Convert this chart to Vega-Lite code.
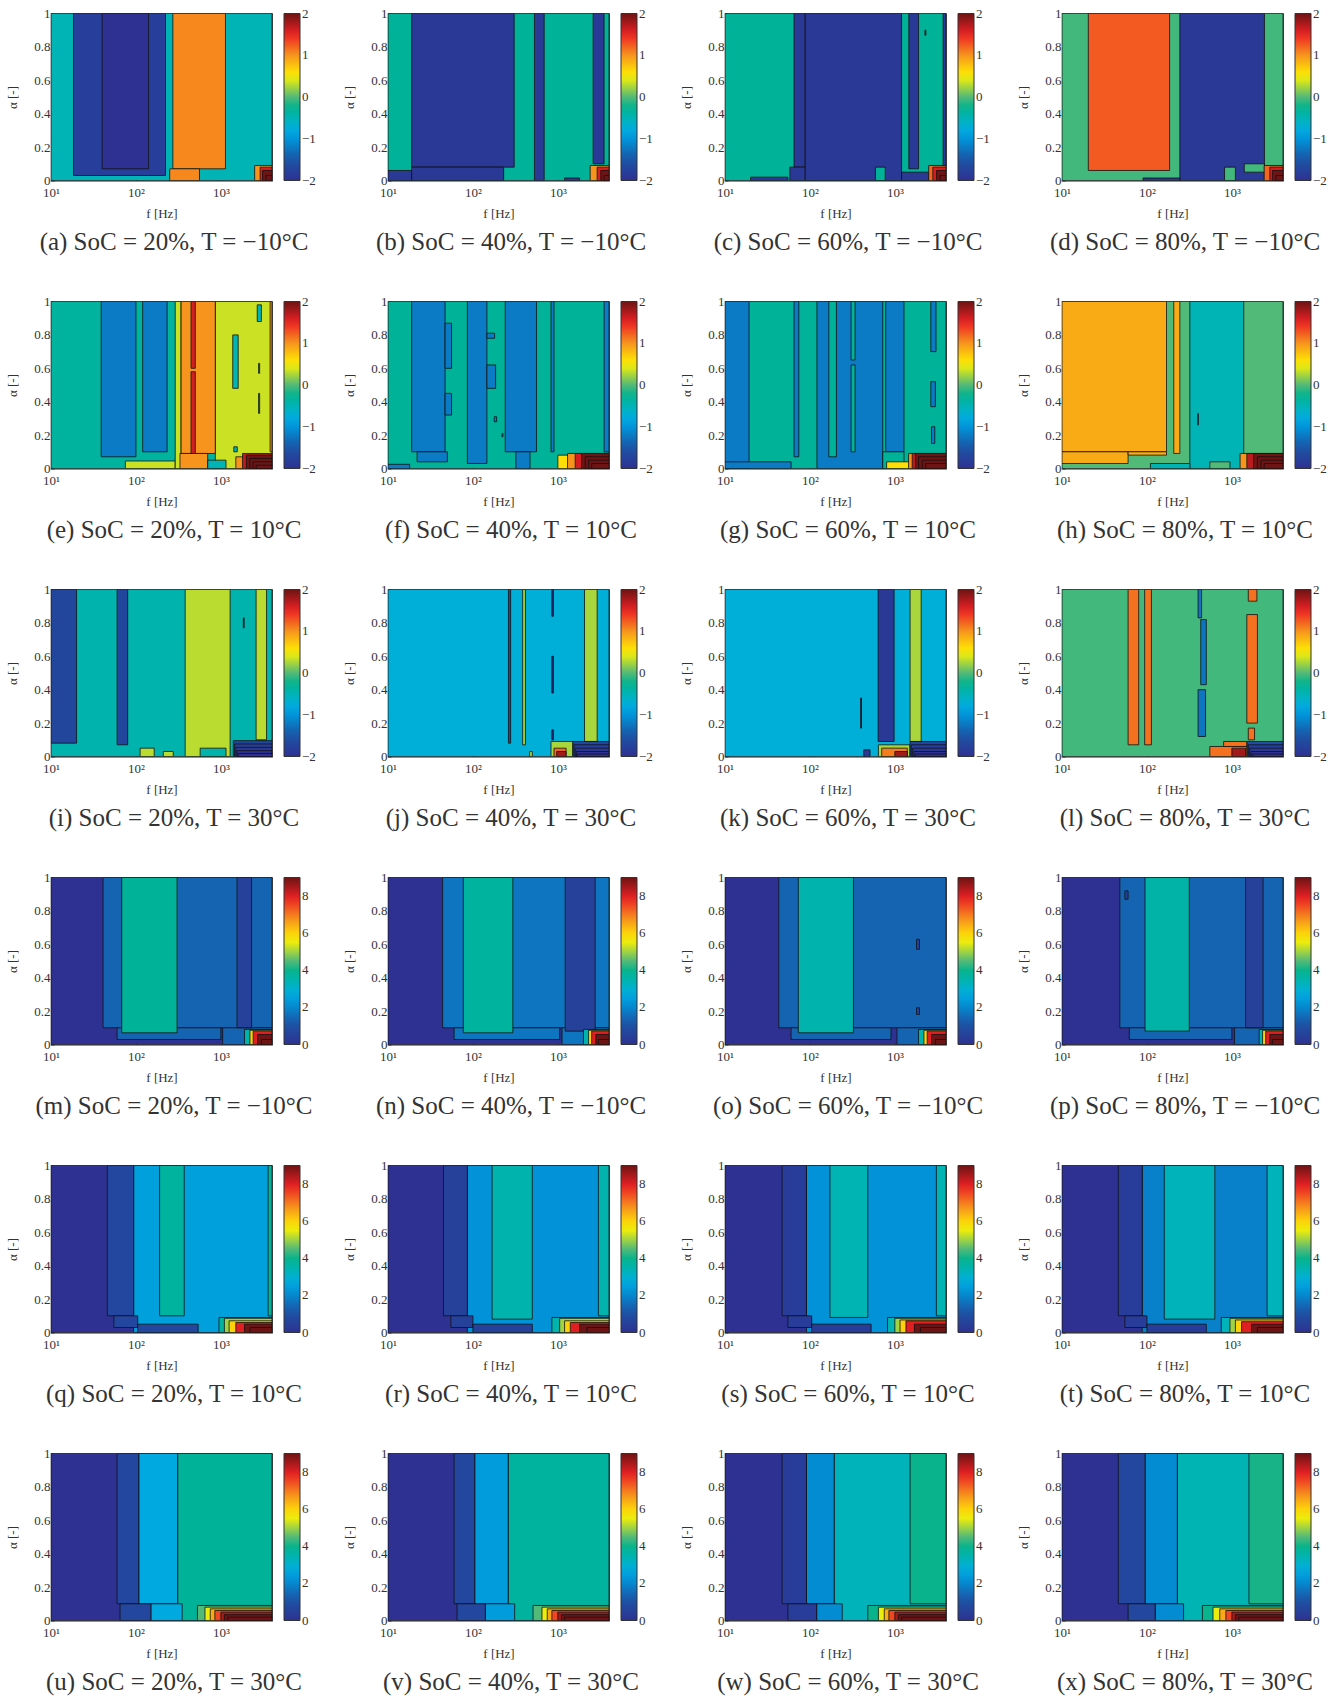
{"$schema":"https://vega.github.io/schema/vega-lite/v6.json","padding":{"left":6,"top":6.5,"right":0,"bottom":0},"background":"white","spacing":39,
"config":{"view":{"stroke":"#222","strokeWidth":1.2},"font":"Liberation Serif","axis":{"grid":false,"labelFont":"Liberation Serif","titleFont":"Liberation Serif","labelFontSize":13,"titleFontSize":13,"titleFontWeight":"normal","labelColor":"#333","titleColor":"#333","tickColor":"#333","tickSize":-3,"domain":false,"labelPadding":4},"legend":{"labelFont":"Liberation Serif","labelFontSize":13,"labelColor":"#333"}},
"datasets":{"top":[
{"p":"a","v":-0.5,"f":10,"g":4000,"a":0,"b":1},{"p":"a","v":-1.8,"f":18.4,"g":223,"a":0.03,"b":1},{"p":"a","v":-2,"f":40,"g":141,"a":0.07,"b":1},{"p":"a","v":1.05,"f":272,"g":1133,"a":0.07,"b":1},{"p":"a","v":1.05,"f":250,"g":560,"a":0,"b":0.07},{"p":"a","v":1,"f":2500,"g":4000,"a":0,"b":0.09},{"p":"a","v":1.6,"f":2900,"g":4000,"a":0,"b":0.08},{"p":"a","v":2,"f":3100,"g":4000,"a":0,"b":0.06},{"p":"a","v":2,"f":3400,"g":4000,"a":0,"b":0.03},
{"p":"b","v":-0.3,"f":10,"g":4000,"a":0,"b":1},{"p":"b","v":-1.9,"f":19,"g":306,"a":0.08,"b":1},{"p":"b","v":-1.9,"f":10,"g":19,"a":0,"b":0.06},{"p":"b","v":-1.9,"f":19,"g":230,"a":0,"b":0.08},{"p":"b","v":-1.9,"f":530,"g":690,"a":0,"b":1},{"p":"b","v":-1.9,"f":2600,"g":3500,"a":0.1,"b":1},{"p":"b","v":-1.9,"f":1200,"g":1800,"a":0,"b":0.015},{"p":"b","v":1,"f":2400,"g":4000,"a":0,"b":0.09},{"p":"b","v":1.6,"f":2900,"g":4000,"a":0,"b":0.08},{"p":"b","v":2,"f":3200,"g":4000,"a":0,"b":0.06},{"p":"b","v":2,"f":3500,"g":4000,"a":0,"b":0.03},
{"p":"c","v":-0.3,"f":10,"g":4000,"a":0,"b":1},{"p":"c","v":-1.9,"f":20,"g":55,"a":0,"b":0.02},{"p":"c","v":-1.9,"f":65,"g":88,"a":0.08,"b":1},{"p":"c","v":-1.9,"f":58,"g":88,"a":0,"b":0.08},{"p":"c","v":-1.9,"f":88,"g":1200,"a":0,"b":1},{"p":"c","v":-0.3,"f":590,"g":770,"a":0,"b":0.08},{"p":"c","v":-1.9,"f":1460,"g":1900,"a":0.07,"b":1},{"p":"c","v":-1.9,"f":1200,"g":2500,"a":0,"b":0.05},{"p":"c","v":-1.9,"f":2260,"g":2320,"a":0.87,"b":0.9},{"p":"c","v":-1.9,"f":3700,"g":4000,"a":0.08,"b":1},{"p":"c","v":1.2,"f":2500,"g":4000,"a":0,"b":0.09},{"p":"c","v":1.6,"f":2800,"g":4000,"a":0,"b":0.08},{"p":"c","v":2,"f":3100,"g":4000,"a":0,"b":0.06},{"p":"c","v":2,"f":3400,"g":4000,"a":0,"b":0.03},
{"p":"d","v":-0.05,"f":10,"g":4000,"a":0,"b":1},{"p":"d","v":1.25,"f":20.4,"g":185,"a":0.06,"b":1},{"p":"d","v":-1.9,"f":244,"g":2420,"a":0,"b":1},{"p":"d","v":-1.9,"f":90,"g":244,"a":0,"b":0.015},{"p":"d","v":-0.05,"f":820,"g":1100,"a":0,"b":0.08},{"p":"d","v":-0.05,"f":1400,"g":2420,"a":0.05,"b":0.1},{"p":"d","v":1.2,"f":2400,"g":4000,"a":0,"b":0.09},{"p":"d","v":1.6,"f":2800,"g":4000,"a":0,"b":0.08},{"p":"d","v":2,"f":3000,"g":4000,"a":0,"b":0.06},{"p":"d","v":2,"f":3300,"g":4000,"a":0,"b":0.03},
{"p":"e","v":-0.35,"f":10,"g":4000,"a":0,"b":1},{"p":"e","v":-1.2,"f":39,"g":100,"a":0.07,"b":1},{"p":"e","v":-1.2,"f":120,"g":233,"a":0.1,"b":1},{"p":"e","v":0.35,"f":75,"g":290,"a":0,"b":0.045},{"p":"e","v":0.35,"f":290,"g":340,"a":0,"b":1},{"p":"e","v":0.35,"f":860,"g":4000,"a":0,"b":1},{"p":"e","v":1,"f":340,"g":860,"a":0.09,"b":1},{"p":"e","v":1,"f":330,"g":700,"a":0,"b":0.09},{"p":"e","v":1.6,"f":445,"g":500,"a":0.09,"b":0.58},{"p":"e","v":1.6,"f":445,"g":500,"a":0.6,"b":1},{"p":"e","v":-0.5,"f":700,"g":1150,"a":0,"b":0.05},{"p":"e","v":-0.5,"f":1380,"g":1600,"a":0.48,"b":0.8},{"p":"e","v":-0.5,"f":2680,"g":3000,"a":0.88,"b":0.98},{"p":"e","v":-0.5,"f":2780,"g":2860,"a":0.57,"b":0.63},{"p":"e","v":-0.5,"f":2780,"g":2860,"a":0.33,"b":0.45},{"p":"e","v":-0.5,"f":1420,"g":1560,"a":0.1,"b":0.13},{"p":"e","v":1,"f":3800,"g":4000,"a":0.1,"b":1},{"p":"e","v":1,"f":1500,"g":4000,"a":0,"b":0.07},{"p":"e","v":1.7,"f":1800,"g":4000,"a":0,"b":0.09},{"p":"e","v":2,"f":2000,"g":4000,"a":0,"b":0.08},{"p":"e","v":2,"f":2200,"g":4000,"a":0,"b":0.06},{"p":"e","v":2,"f":2400,"g":4000,"a":0,"b":0.04},{"p":"e","v":2,"f":2600,"g":4000,"a":0,"b":0.02},
{"p":"f","v":-0.3,"f":10,"g":4000,"a":0,"b":1},{"p":"f","v":-1.2,"f":10,"g":18,"a":0,"b":0.025},{"p":"f","v":-1.2,"f":19,"g":47,"a":0.1,"b":1},{"p":"f","v":-1.2,"f":22,"g":50,"a":0.04,"b":0.1},{"p":"f","v":-1.2,"f":47,"g":56,"a":0.6,"b":0.87},{"p":"f","v":-1.2,"f":47,"g":56,"a":0.32,"b":0.45},{"p":"f","v":-1.2,"f":86,"g":146,"a":0.03,"b":1},{"p":"f","v":-1.2,"f":146,"g":185,"a":0.48,"b":0.62},{"p":"f","v":-1.2,"f":146,"g":180,"a":0.78,"b":0.81},{"p":"f","v":-1.2,"f":240,"g":560,"a":0.1,"b":1},{"p":"f","v":-1.2,"f":320,"g":470,"a":0,"b":0.1},{"p":"f","v":-1.2,"f":830,"g":900,"a":0.1,"b":1},{"p":"f","v":-1.2,"f":3500,"g":4000,"a":0.1,"b":1},{"p":"f","v":-1.2,"f":178,"g":190,"a":0.28,"b":0.31},{"p":"f","v":-1.2,"f":220,"g":226,"a":0.19,"b":0.21},{"p":"f","v":0.6,"f":1000,"g":4000,"a":0,"b":0.08},{"p":"f","v":1,"f":1300,"g":4000,"a":0,"b":0.09},{"p":"f","v":1.6,"f":1600,"g":4000,"a":0,"b":0.09},{"p":"f","v":2,"f":1900,"g":4000,"a":0,"b":0.09},{"p":"f","v":2,"f":2100,"g":4000,"a":0,"b":0.07},{"p":"f","v":2,"f":2300,"g":4000,"a":0,"b":0.05},{"p":"f","v":2,"f":2500,"g":4000,"a":0,"b":0.03},
{"p":"g","v":-0.3,"f":10,"g":4000,"a":0,"b":1},{"p":"g","v":-1.2,"f":10,"g":19.2,"a":0,"b":1},{"p":"g","v":-1.2,"f":10,"g":60,"a":0,"b":0.04},{"p":"g","v":-1.2,"f":65,"g":74,"a":0.07,"b":1},{"p":"g","v":-1.2,"f":121,"g":720,"a":0,"b":1},{"p":"g","v":-0.3,"f":167,"g":205,"a":0.07,"b":1},{"p":"g","v":-0.3,"f":305,"g":340,"a":0.1,"b":0.62},{"p":"g","v":-0.3,"f":305,"g":340,"a":0.65,"b":1},{"p":"g","v":-1.2,"f":780,"g":1280,"a":0.1,"b":1},{"p":"g","v":-0.3,"f":720,"g":1280,"a":0,"b":0.1},{"p":"g","v":-1.2,"f":2650,"g":3050,"a":0.7,"b":1},{"p":"g","v":-1.2,"f":2650,"g":3000,"a":0.37,"b":0.52},{"p":"g","v":-1.2,"f":2700,"g":2950,"a":0.15,"b":0.25},{"p":"g","v":0.6,"f":800,"g":1500,"a":0,"b":0.04},{"p":"g","v":1,"f":1450,"g":4000,"a":0,"b":0.09},{"p":"g","v":1.7,"f":1600,"g":4000,"a":0,"b":0.09},{"p":"g","v":2,"f":1750,"g":4000,"a":0,"b":0.09},{"p":"g","v":2,"f":1900,"g":4000,"a":0,"b":0.07},{"p":"g","v":2,"f":2100,"g":4000,"a":0,"b":0.05},{"p":"g","v":2,"f":2300,"g":4000,"a":0,"b":0.03},
{"p":"h","v":0,"f":10,"g":4000,"a":0,"b":1},{"p":"h","v":0.88,"f":10,"g":170,"a":0.1,"b":1},{"p":"h","v":0.88,"f":10,"g":60,"a":0.03,"b":0.1},{"p":"h","v":0.88,"f":60,"g":170,"a":0.08,"b":0.1},{"p":"h","v":0.88,"f":207,"g":244,"a":0.09,"b":1},{"p":"h","v":-0.5,"f":320,"g":1380,"a":0,"b":1},{"p":"h","v":-0.5,"f":110,"g":320,"a":0,"b":0.03},{"p":"h","v":0,"f":550,"g":950,"a":0,"b":0.04},{"p":"h","v":-2,"f":398,"g":402,"a":0.26,"b":0.33},{"p":"h","v":1,"f":1250,"g":4000,"a":0,"b":0.09},{"p":"h","v":1.7,"f":1500,"g":4000,"a":0,"b":0.09},{"p":"h","v":2,"f":1800,"g":4000,"a":0,"b":0.09},{"p":"h","v":2,"f":2000,"g":4000,"a":0,"b":0.07},{"p":"h","v":2,"f":2200,"g":4000,"a":0,"b":0.05},{"p":"h","v":2,"f":2400,"g":4000,"a":0,"b":0.03},
{"p":"i","v":-0.45,"f":10,"g":4000,"a":0,"b":1},{"p":"i","v":-1.7,"f":10,"g":20,"a":0.08,"b":1},{"p":"i","v":-1.7,"f":60,"g":80,"a":0.07,"b":1},{"p":"i","v":0.3,"f":380,"g":1285,"a":0,"b":1},{"p":"i","v":-0.45,"f":570,"g":1150,"a":0,"b":0.05},{"p":"i","v":0.3,"f":112,"g":164,"a":0,"b":0.05},{"p":"i","v":0.3,"f":210,"g":275,"a":0,"b":0.03},{"p":"i","v":0.3,"f":2600,"g":3450,"a":0.1,"b":1},{"p":"i","v":-2,"f":1840,"g":1880,"a":0.77,"b":0.83},{"p":"i","v":-1.7,"f":1400,"g":4000,"a":0,"b":0.095},{"p":"i","v":-1.8,"f":1450,"g":4000,"a":0,"b":0.075},{"p":"i","v":-1.9,"f":1500,"g":4000,"a":0,"b":0.055},{"p":"i","v":-2,"f":1550,"g":4000,"a":0,"b":0.035},{"p":"i","v":-2,"f":1600,"g":4000,"a":0,"b":0.018},
{"p":"j","v":-0.7,"f":10,"g":4000,"a":0,"b":1},{"p":"j","v":-1.7,"f":262,"g":278,"a":0.08,"b":1},{"p":"j","v":0.25,"f":385,"g":415,"a":0.07,"b":1},{"p":"j","v":-2,"f":850,"g":885,"a":0.38,"b":0.6},{"p":"j","v":-2,"f":850,"g":885,"a":0.84,"b":1},{"p":"j","v":-2,"f":850,"g":885,"a":0.1,"b":0.16},{"p":"j","v":0.25,"f":465,"g":500,"a":0,"b":0.03},{"p":"j","v":0.25,"f":830,"g":1500,"a":0,"b":0.09},{"p":"j","v":1.2,"f":900,"g":1250,"a":0,"b":0.05},{"p":"j","v":1.8,"f":970,"g":1250,"a":0,"b":0.03},{"p":"j","v":0.25,"f":2060,"g":2900,"a":0.09,"b":1},{"p":"j","v":-1.7,"f":1500,"g":4000,"a":0,"b":0.09},{"p":"j","v":-1.8,"f":1550,"g":4000,"a":0,"b":0.07},{"p":"j","v":-1.9,"f":1600,"g":4000,"a":0,"b":0.05},{"p":"j","v":-2,"f":1650,"g":4000,"a":0,"b":0.03},{"p":"j","v":-2,"f":1700,"g":4000,"a":0,"b":0.015},
{"p":"k","v":-0.7,"f":10,"g":4000,"a":0,"b":1},{"p":"k","v":-2,"f":395,"g":405,"a":0.17,"b":0.35},{"p":"k","v":-1.9,"f":635,"g":980,"a":0.09,"b":1},{"p":"k","v":0.25,"f":1510,"g":2040,"a":0.09,"b":1},{"p":"k","v":0.25,"f":640,"g":1500,"a":0,"b":0.07},{"p":"k","v":1.1,"f":700,"g":1400,"a":0,"b":0.05},{"p":"k","v":1.8,"f":1000,"g":1400,"a":0,"b":0.03},{"p":"k","v":-1.9,"f":430,"g":510,"a":0,"b":0.04},{"p":"k","v":-1.7,"f":1510,"g":4000,"a":0,"b":0.09},{"p":"k","v":-1.8,"f":1560,"g":4000,"a":0,"b":0.07},{"p":"k","v":-1.9,"f":1620,"g":4000,"a":0,"b":0.05},{"p":"k","v":-2,"f":1680,"g":4000,"a":0,"b":0.03},{"p":"k","v":-2,"f":1740,"g":4000,"a":0,"b":0.015},
{"p":"l","v":-0.05,"f":10,"g":4000,"a":0,"b":1},{"p":"l","v":1.15,"f":60,"g":80,"a":0.07,"b":1},{"p":"l","v":1.15,"f":94,"g":113,"a":0.07,"b":1},{"p":"l","v":-1.25,"f":400,"g":440,"a":0.83,"b":1},{"p":"l","v":-1.25,"f":430,"g":500,"a":0.43,"b":0.82},{"p":"l","v":-1.25,"f":400,"g":490,"a":0.12,"b":0.4},{"p":"l","v":1.15,"f":1560,"g":1970,"a":0.93,"b":1},{"p":"l","v":1.15,"f":1500,"g":2000,"a":0.2,"b":0.85},{"p":"l","v":1.15,"f":1560,"g":1850,"a":0.1,"b":0.17},{"p":"l","v":1.15,"f":550,"g":1500,"a":0,"b":0.06},{"p":"l","v":1.15,"f":800,"g":1500,"a":0.06,"b":0.09},{"p":"l","v":1.8,"f":1000,"g":1450,"a":0,"b":0.05},{"p":"l","v":-1.6,"f":1510,"g":4000,"a":0,"b":0.09},{"p":"l","v":-1.8,"f":1560,"g":4000,"a":0,"b":0.07},{"p":"l","v":-1.9,"f":1620,"g":4000,"a":0,"b":0.05},{"p":"l","v":-2,"f":1680,"g":4000,"a":0,"b":0.03},{"p":"l","v":-2,"f":1740,"g":4000,"a":0,"b":0.015}
],"bot":[
{"p":"m","v":0,"f":10,"g":4000,"a":0,"b":1},{"p":"m","v":1.4,"f":41,"g":4000,"a":0.1,"b":1},{"p":"m","v":1.4,"f":60,"g":1000,"a":0.03,"b":0.1},{"p":"m","v":1.4,"f":1050,"g":4000,"a":0,"b":0.1},{"p":"m","v":3.8,"f":68,"g":305,"a":0.07,"b":1},{"p":"m","v":0.5,"f":1550,"g":2300,"a":0.1,"b":1},{"p":"m","v":3.5,"f":1900,"g":4000,"a":0,"b":0.09},{"p":"m","v":6,"f":2200,"g":4000,"a":0,"b":0.085},{"p":"m","v":8,"f":2400,"g":4000,"a":0,"b":0.08},{"p":"m","v":9,"f":2700,"g":4000,"a":0,"b":0.06},{"p":"m","v":9,"f":3000,"g":4000,"a":0,"b":0.03},
{"p":"n","v":0,"f":10,"g":4000,"a":0,"b":1},{"p":"n","v":1.7,"f":44,"g":4000,"a":0.1,"b":1},{"p":"n","v":1.7,"f":60,"g":1050,"a":0.03,"b":0.1},{"p":"n","v":1.7,"f":1120,"g":4000,"a":0,"b":0.1},{"p":"n","v":3.7,"f":77,"g":295,"a":0.07,"b":1},{"p":"n","v":0.5,"f":1220,"g":2750,"a":0.08,"b":1},{"p":"n","v":3.5,"f":2000,"g":4000,"a":0,"b":0.09},{"p":"n","v":6,"f":2300,"g":4000,"a":0,"b":0.085},{"p":"n","v":8,"f":2500,"g":4000,"a":0,"b":0.08},{"p":"n","v":9,"f":2800,"g":4000,"a":0,"b":0.06},{"p":"n","v":9,"f":3000,"g":4000,"a":0,"b":0.03},
{"p":"o","v":0,"f":10,"g":4000,"a":0,"b":1},{"p":"o","v":1.4,"f":43,"g":4000,"a":0.1,"b":1},{"p":"o","v":1.4,"f":60,"g":900,"a":0.03,"b":0.1},{"p":"o","v":1.4,"f":1060,"g":4000,"a":0,"b":0.1},{"p":"o","v":3.5,"f":73,"g":325,"a":0.07,"b":1},{"p":"o","v":0.5,"f":1800,"g":1950,"a":0.57,"b":0.63},{"p":"o","v":0.5,"f":1800,"g":1950,"a":0.18,"b":0.22},{"p":"o","v":3.5,"f":1900,"g":4000,"a":0,"b":0.09},{"p":"o","v":6,"f":2200,"g":4000,"a":0,"b":0.085},{"p":"o","v":8,"f":2400,"g":4000,"a":0,"b":0.08},{"p":"o","v":9,"f":2700,"g":4000,"a":0,"b":0.06},{"p":"o","v":9,"f":3000,"g":4000,"a":0,"b":0.03},
{"p":"p","v":0,"f":10,"g":4000,"a":0,"b":1},{"p":"p","v":1.4,"f":48,"g":4000,"a":0.1,"b":1},{"p":"p","v":1.4,"f":62,"g":1000,"a":0.03,"b":0.1},{"p":"p","v":1.4,"f":1075,"g":4000,"a":0,"b":0.1},{"p":"p","v":3.6,"f":95,"g":315,"a":0.08,"b":1},{"p":"p","v":0.5,"f":1450,"g":2330,"a":0.1,"b":1},{"p":"p","v":0.5,"f":55,"g":60,"a":0.87,"b":0.92},{"p":"p","v":3.5,"f":2100,"g":4000,"a":0,"b":0.09},{"p":"p","v":6,"f":2300,"g":4000,"a":0,"b":0.085},{"p":"p","v":8,"f":2500,"g":4000,"a":0,"b":0.08},{"p":"p","v":9,"f":2800,"g":4000,"a":0,"b":0.06},{"p":"p","v":9,"f":3000,"g":4000,"a":0,"b":0.03},
{"p":"q","v":0,"f":10,"g":4000,"a":0,"b":1},{"p":"q","v":2.5,"f":94,"g":4000,"a":0,"b":1},{"p":"q","v":0.7,"f":46,"g":94,"a":0.1,"b":1},{"p":"q","v":0.7,"f":55,"g":105,"a":0.03,"b":0.1},{"p":"q","v":0.7,"f":105,"g":540,"a":0,"b":0.05},{"p":"q","v":3.7,"f":190,"g":370,"a":0.1,"b":1},{"p":"q","v":3.7,"f":3600,"g":4000,"a":0.1,"b":1},{"p":"q","v":3.7,"f":950,"g":4000,"a":0,"b":0.09},{"p":"q","v":5,"f":1100,"g":4000,"a":0,"b":0.085},{"p":"q","v":6,"f":1250,"g":4000,"a":0,"b":0.07},{"p":"q","v":8,"f":1500,"g":4000,"a":0,"b":0.06},{"p":"q","v":9,"f":1900,"g":4000,"a":0,"b":0.05},{"p":"q","v":9,"f":2200,"g":4000,"a":0,"b":0.03},
{"p":"r","v":0,"f":10,"g":4000,"a":0,"b":1},{"p":"r","v":2.2,"f":86,"g":4000,"a":0,"b":1},{"p":"r","v":0.5,"f":45,"g":86,"a":0.1,"b":1},{"p":"r","v":0.5,"f":55,"g":100,"a":0.03,"b":0.1},{"p":"r","v":0.5,"f":100,"g":500,"a":0,"b":0.05},{"p":"r","v":3.5,"f":168,"g":500,"a":0.08,"b":1},{"p":"r","v":3.5,"f":3000,"g":4000,"a":0.1,"b":1},{"p":"r","v":3.5,"f":850,"g":4000,"a":0,"b":0.09},{"p":"r","v":5,"f":1050,"g":4000,"a":0,"b":0.085},{"p":"r","v":6,"f":1200,"g":4000,"a":0,"b":0.07},{"p":"r","v":8,"f":1400,"g":4000,"a":0,"b":0.06},{"p":"r","v":9,"f":1800,"g":4000,"a":0,"b":0.05},{"p":"r","v":9,"f":2200,"g":4000,"a":0,"b":0.03},
{"p":"s","v":0,"f":10,"g":4000,"a":0,"b":1},{"p":"s","v":2.2,"f":91,"g":4000,"a":0,"b":1},{"p":"s","v":0.4,"f":47,"g":91,"a":0.1,"b":1},{"p":"s","v":0.4,"f":55,"g":105,"a":0.03,"b":0.1},{"p":"s","v":0.4,"f":105,"g":525,"a":0,"b":0.05},{"p":"s","v":3.4,"f":172,"g":480,"a":0.09,"b":1},{"p":"s","v":3.4,"f":3080,"g":4000,"a":0.1,"b":1},{"p":"s","v":3.4,"f":820,"g":4000,"a":0,"b":0.09},{"p":"s","v":5,"f":1000,"g":4000,"a":0,"b":0.085},{"p":"s","v":6,"f":1150,"g":4000,"a":0,"b":0.075},{"p":"s","v":8,"f":1350,"g":4000,"a":0,"b":0.07},{"p":"s","v":9,"f":1700,"g":4000,"a":0,"b":0.05},{"p":"s","v":9,"f":2000,"g":4000,"a":0,"b":0.03},
{"p":"t","v":0,"f":10,"g":4000,"a":0,"b":1},{"p":"t","v":1.9,"f":88,"g":4000,"a":0,"b":1},{"p":"t","v":0.4,"f":46,"g":88,"a":0.1,"b":1},{"p":"t","v":0.4,"f":55,"g":100,"a":0.03,"b":0.1},{"p":"t","v":0.4,"f":100,"g":500,"a":0,"b":0.05},{"p":"t","v":3.3,"f":160,"g":630,"a":0.08,"b":1},{"p":"t","v":3.3,"f":2600,"g":4000,"a":0.1,"b":1},{"p":"t","v":3.3,"f":750,"g":4000,"a":0,"b":0.09},{"p":"t","v":5,"f":950,"g":4000,"a":0,"b":0.085},{"p":"t","v":6,"f":1100,"g":4000,"a":0,"b":0.075},{"p":"t","v":8,"f":1300,"g":4000,"a":0,"b":0.065},{"p":"t","v":9,"f":1700,"g":4000,"a":0,"b":0.05},{"p":"t","v":9,"f":2000,"g":4000,"a":0,"b":0.03},
{"p":"u","v":0,"f":10,"g":4000,"a":0,"b":1},{"p":"u","v":3.8,"f":310,"g":4000,"a":0,"b":1},{"p":"u","v":2.7,"f":108,"g":310,"a":0.1,"b":1},{"p":"u","v":2.7,"f":150,"g":350,"a":0,"b":0.1},{"p":"u","v":0.7,"f":60,"g":108,"a":0.1,"b":1},{"p":"u","v":0.7,"f":65,"g":150,"a":0,"b":0.1},{"p":"u","v":4.5,"f":530,"g":4000,"a":0,"b":0.09},{"p":"u","v":5.5,"f":650,"g":4000,"a":0,"b":0.08},{"p":"u","v":6.5,"f":750,"g":4000,"a":0,"b":0.07},{"p":"u","v":7.5,"f":850,"g":4000,"a":0,"b":0.06},{"p":"u","v":8.5,"f":1000,"g":4000,"a":0,"b":0.05},{"p":"u","v":9,"f":1100,"g":4000,"a":0,"b":0.035},{"p":"u","v":9,"f":1200,"g":4000,"a":0,"b":0.02},
{"p":"v","v":0,"f":10,"g":4000,"a":0,"b":1},{"p":"v","v":3.7,"f":260,"g":4000,"a":0,"b":1},{"p":"v","v":2.4,"f":105,"g":260,"a":0.1,"b":1},{"p":"v","v":2.4,"f":140,"g":310,"a":0,"b":0.1},{"p":"v","v":0.7,"f":60,"g":105,"a":0.1,"b":1},{"p":"v","v":0.7,"f":65,"g":140,"a":0,"b":0.1},{"p":"v","v":4.5,"f":510,"g":4000,"a":0,"b":0.09},{"p":"v","v":5.5,"f":650,"g":4000,"a":0,"b":0.08},{"p":"v","v":6.5,"f":750,"g":4000,"a":0,"b":0.07},{"p":"v","v":7.5,"f":850,"g":4000,"a":0,"b":0.06},{"p":"v","v":8.5,"f":1000,"g":4000,"a":0,"b":0.05},{"p":"v","v":9,"f":1100,"g":4000,"a":0,"b":0.035},{"p":"v","v":9,"f":1200,"g":4000,"a":0,"b":0.02},
{"p":"w","v":0,"f":10,"g":4000,"a":0,"b":1},{"p":"w","v":3.3,"f":193,"g":4000,"a":0,"b":1},{"p":"w","v":4,"f":1510,"g":4000,"a":0.1,"b":1},{"p":"w","v":2.1,"f":91,"g":193,"a":0.1,"b":1},{"p":"w","v":2.1,"f":120,"g":240,"a":0,"b":0.1},{"p":"w","v":0.4,"f":47,"g":91,"a":0.1,"b":1},{"p":"w","v":0.4,"f":55,"g":120,"a":0,"b":0.1},{"p":"w","v":4,"f":480,"g":4000,"a":0,"b":0.09},{"p":"w","v":5.5,"f":640,"g":4000,"a":0,"b":0.08},{"p":"w","v":6.5,"f":750,"g":4000,"a":0,"b":0.07},{"p":"w","v":7.5,"f":850,"g":4000,"a":0,"b":0.06},{"p":"w","v":8.5,"f":1000,"g":4000,"a":0,"b":0.05},{"p":"w","v":9,"f":1100,"g":4000,"a":0,"b":0.035},{"p":"w","v":9,"f":1200,"g":4000,"a":0,"b":0.02},
{"p":"x","v":0,"f":10,"g":4000,"a":0,"b":1},{"p":"x","v":3.4,"f":228,"g":4000,"a":0,"b":1},{"p":"x","v":4.1,"f":1590,"g":4000,"a":0.1,"b":1},{"p":"x","v":2.1,"f":95,"g":228,"a":0.1,"b":1},{"p":"x","v":2.1,"f":125,"g":270,"a":0,"b":0.1},{"p":"x","v":0.7,"f":46,"g":95,"a":0.1,"b":1},{"p":"x","v":0.7,"f":60,"g":125,"a":0,"b":0.1},{"p":"x","v":4,"f":450,"g":4000,"a":0,"b":0.09},{"p":"x","v":5.5,"f":600,"g":4000,"a":0,"b":0.08},{"p":"x","v":6.5,"f":720,"g":4000,"a":0,"b":0.07},{"p":"x","v":7.5,"f":850,"g":4000,"a":0,"b":0.06},{"p":"x","v":8.5,"f":1000,"g":4000,"a":0,"b":0.05},{"p":"x","v":9,"f":1100,"g":4000,"a":0,"b":0.035},{"p":"x","v":9,"f":1200,"g":4000,"a":0,"b":0.02}
]},
"vconcat":[
{"data":{"name":"top"},"columns":4,"spacing":{"column":26,"row":39},
"facet":{"field":"p","type":"nominal","title":null,"header":{"labelOrient":"bottom","labelFont":"Liberation Serif","labelFontSize":25,"labelColor":"#333","labelPadding":9,"labelLimit":0,"labelExpr":"'\u200b\u00a0\u00a0\u00a0\u00a0'+{'a':'(a) SoC = 20%, T = −10°C','b':'(b) SoC = 40%, T = −10°C','c':'(c) SoC = 60%, T = −10°C','d':'(d) SoC = 80%, T = −10°C','e':'(e) SoC = 20%, T = 10°C','f':'(f) SoC = 40%, T = 10°C','g':'(g) SoC = 60%, T = 10°C','h':'(h) SoC = 80%, T = 10°C','i':'(i) SoC = 20%, T = 30°C','j':'(j) SoC = 40%, T = 30°C','k':'(k) SoC = 60%, T = 30°C','l':'(l) SoC = 80%, T = 30°C'}[datum.value]"}},
"resolve":{"scale":{"color":"independent"},"axis":{"x":"independent","y":"independent"}},
"spec":{"width":221,"height":167,"mark":{"type":"rect","stroke":"#111","strokeWidth":0.8,"clip":true},
"encoding":{"x":{"field":"f","type":"quantitative","title":"f [Hz]","scale":{"type":"log","domain":[10,4000],"nice":false},"axis":{"values":[10,100,1000],"labelFlush":false,"labelPadding":9,"labelExpr":"datum.value==10?'10¹':datum.value==100?'10²':'10³'","titlePadding":8}},"x2":{"field":"g"},"y":{"field":"a","type":"quantitative","title":"α [-]","scale":{"domain":[0,1],"nice":false},"axis":{"values":[0,0.2,0.4,0.6,0.8,1],"format":"~g","titlePadding":14}},"y2":{"field":"b"},
"color":{"field":"v","type":"quantitative","scale":{"domain":[-2,-1.5,-1,-0.75,-0.5,-0.25,0,0.5,1,1.5,2],"range":["#2e3192","#1c54a5","#0095da","#00aee0","#00b4b5","#00b28f","#52ba78","#fff200","#f7941d","#ed2024","#6e1414"],"interpolate":"rgb"},"legend":{"title":null,"type":"gradient","values":[-2,-1,0,1,2],"gradientLength":167,"gradientThickness":16,"gradientStrokeColor":"#333","gradientStrokeWidth":1,"offset":12,"padding":0,"encoding":{"labels":{"baseline":{"value":"middle"}}}}}}}},
{"data":{"name":"bot"},"columns":4,"spacing":{"column":29,"row":39},
"facet":{"field":"p","type":"nominal","title":null,"header":{"labelOrient":"bottom","labelFont":"Liberation Serif","labelFontSize":25,"labelColor":"#333","labelPadding":9,"labelLimit":0,"labelExpr":"'\u200b\u00a0\u00a0\u00a0\u00a0'+{'m':'(m) SoC = 20%, T = −10°C','n':'(n) SoC = 40%, T = −10°C','o':'(o) SoC = 60%, T = −10°C','p':'(p) SoC = 80%, T = −10°C','q':'(q) SoC = 20%, T = 10°C','r':'(r) SoC = 40%, T = 10°C','s':'(s) SoC = 60%, T = 10°C','t':'(t) SoC = 80%, T = 10°C','u':'(u) SoC = 20%, T = 30°C','v':'(v) SoC = 40%, T = 30°C','w':'(w) SoC = 60%, T = 30°C','x':'(x) SoC = 80%, T = 30°C'}[datum.value]"}},
"resolve":{"scale":{"color":"independent"},"axis":{"x":"independent","y":"independent"}},
"spec":{"width":221,"height":167,"mark":{"type":"rect","stroke":"#111","strokeWidth":0.8,"clip":true},
"encoding":{"x":{"field":"f","type":"quantitative","title":"f [Hz]","scale":{"type":"log","domain":[10,4000],"nice":false},"axis":{"values":[10,100,1000],"labelFlush":false,"labelPadding":9,"labelExpr":"datum.value==10?'10¹':datum.value==100?'10²':'10³'","titlePadding":8}},"x2":{"field":"g"},"y":{"field":"a","type":"quantitative","title":"α [-]","scale":{"domain":[0,1],"nice":false},"axis":{"values":[0,0.2,0.4,0.6,0.8,1],"format":"~g","titlePadding":14}},"y2":{"field":"b"},
"color":{"field":"v","type":"quantitative","scale":{"domain":[0,1.125,2.25,2.8125,3.375,3.9375,4.5,5.625,6.75,7.875,9],"range":["#2e3192","#1c54a5","#0095da","#00aee0","#00b4b5","#00b28f","#52ba78","#fff200","#f7941d","#ed2024","#6e1414"],"interpolate":"rgb"},"legend":{"title":null,"type":"gradient","values":[0,2,4,6,8],"gradientLength":167,"gradientThickness":16,"gradientStrokeColor":"#333","gradientStrokeWidth":1,"offset":12,"padding":0,"encoding":{"labels":{"baseline":{"value":"middle"}}}}}}}}
]}
